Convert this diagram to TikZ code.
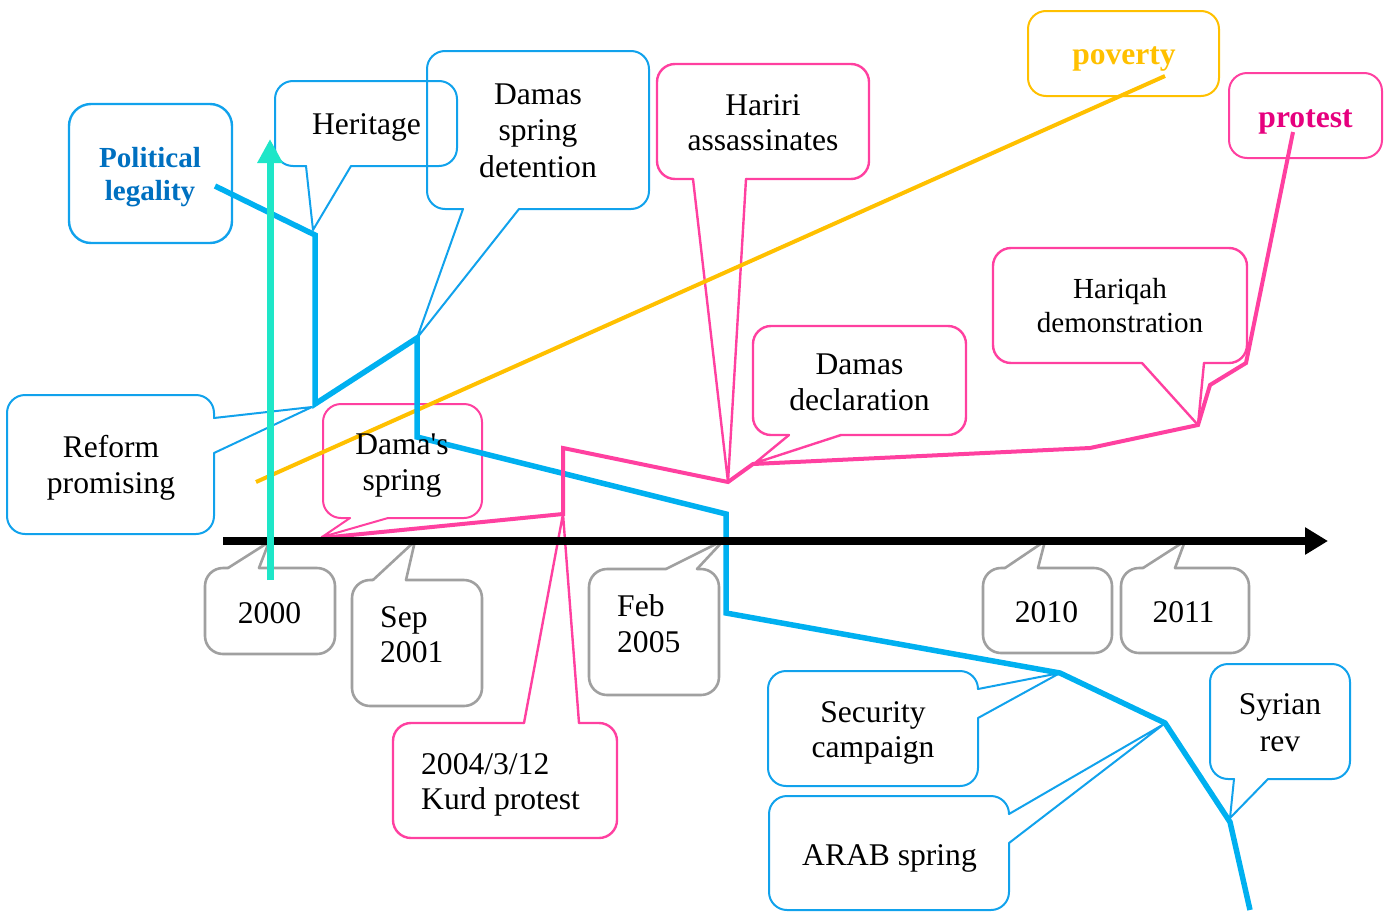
\documentclass[tikz,border=0pt]{standalone}
\usepackage{fontspec}
\setmainfont{Liberation Serif}
\usetikzlibrary{arrows.meta}
\definecolor{bthick}{RGB}{0,176,240}
\definecolor{bout}{RGB}{17,162,236}
\definecolor{pk}{RGB}{255,64,160}
\definecolor{pkt}{RGB}{230,0,126}
\definecolor{yl}{RGB}{255,192,0}
\definecolor{gr}{RGB}{160,160,160}
\definecolor{tl}{RGB}{30,230,200}
\definecolor{plt}{RGB}{0,112,192}
\newcommand\cC[1]{\begin{tabular}[t]{@{}c@{}}#1\end{tabular}}
\newcommand\cL[1]{\begin{tabular}[t]{@{}l@{}}#1\end{tabular}}
% callout outlines: #1 style, #2 x0, #3 y0 (top), #4 x1, #5 y1 (bottom), #6 #7 pointer base, #8 tip
\newcommand\coBot[8]{%
  \draw[#1,rounded corners=18bp] (#6,#5) -- (#2,#5) -- (#2,#3) -- (#4,#3) -- (#4,#5) -- (#7,#5);
  \draw[#1] (#7,#5) -- (#8) -- (#6,#5);}
\newcommand\coTop[8]{%
  \draw[#1,rounded corners=18bp] (#7,#3) -- (#4,#3) -- (#4,#5) -- (#2,#5) -- (#2,#3) -- (#6,#3);
  \draw[#1] (#6,#3) -- (#8) -- (#7,#3);}
\newcommand\coRight[8]{%
  \draw[#1,rounded corners=18bp] (#4,#6) -- (#4,#3) -- (#2,#3) -- (#2,#5) -- (#4,#5) -- (#4,#7);
  \draw[#1] (#4,#7) -- (#8) -- (#4,#6);}
\begin{document}
\begin{tikzpicture}[x=1bp,y=-1bp,
  txt/.style={inner sep=0pt,anchor=base,font=\fontsize{31.7}{37}\selectfont},
  txtl/.style={inner sep=0pt,anchor=base west,font=\fontsize{31.7}{37}\selectfont},
  bo/.style={draw=bout,line width=2bp,line join=round,line cap=round},
  po/.style={draw=pk,line width=2.4bp,line join=round,line cap=round},
  go/.style={draw=gr,line width=2.6bp,line join=round,line cap=round},
  yo/.style={draw=yl,line width=2bp},
  bline/.style={draw=bthick,line width=5.5bp},
  pline/.style={draw=pk,line width=4bp},
  yline/.style={draw=yl,line width=4bp}]
\useasboundingbox (0,0) rectangle (1392,914);
% path vertices
\coordinate (B0) at (215,186); \coordinate (B1) at (315,235); \coordinate (B2) at (315,404);
\coordinate (B3) at (417,338); \coordinate (B4) at (417,437); \coordinate (B5) at (726,514);
\coordinate (B6) at (726,613); \coordinate (B7) at (1060,673); \coordinate (B8) at (1165,723);
\coordinate (B9) at (1230,822); \coordinate (B10) at (1250,910);
\coordinate (P0) at (321,538); \coordinate (P1) at (563,514); \coordinate (P2) at (563,448);
\coordinate (P3) at (728,482); \coordinate (P4) at (753,464); \coordinate (P5) at (1090,448);
\coordinate (P6) at (1198,425); \coordinate (P7) at (1210,385); \coordinate (P8) at (1246,363);
\coordinate (P9) at (1293,132);
\coordinate (Y0) at (256,482); \coordinate (Y1) at (1165,76);
\coordinate (A0) at (223,541); \coordinate (A1) at (1328,541);
\coordinate (T0) at (270,580); \coordinate (T1) at (270,139);
% callout tips
\coordinate (tHer) at (313,230); \coordinate (tDsd) at (417,338); \coordinate (tRef) at (312,407);
\coordinate (tHar) at (728,482); \coordinate (tHq) at (1198,425); \coordinate (tDd) at (755,463);
\coordinate (tDs) at (322,537); \coordinate (tKu) at (563,514);
\coordinate (t00) at (269,542); \coordinate (t01) at (415,541); \coordinate (t05) at (724,540);
\coordinate (t10) at (1045,541); \coordinate (t11) at (1185,541);
\coordinate (tSec) at (1060,673); \coordinate (tAr) at (1164,724); \coordinate (tSy) at (1230,818);
% boxes
\draw[bo,line width=2.4bp,rounded corners=22bp] (69,104) rectangle (232,243);
\draw[yo,rounded corners=18bp] (1028,11) rectangle (1219,96);
\draw[po,line width=2bp,rounded corners=18bp] (1229,73) rectangle (1382,158);
\coBot{bo}{275}{81}{457}{166}{306}{351}{tHer}
\coBot{bo}{427}{51}{649}{209}{463}{519}{tDsd}
\coRight{bo}{7}{395}{214}{534}{418}{453}{tRef}
\coBot{po}{657}{64}{869}{179}{693}{746}{tHar}
\coBot{po}{993}{248}{1247}{363}{1142}{1204}{tHq}
\coBot{po}{753}{326}{966}{435}{789}{841}{tDd}
\coBot{po,line width=2bp}{323}{404}{482}{518}{350}{388}{tDs}
\coTop{po}{393}{723}{617}{838}{524}{579}{tKu}
\coTop{go}{205}{568}{335}{654}{228}{259}{t00}
\coTop{go}{352}{580}{482}{706}{373}{406}{t01}
\coTop{go}{589}{569}{719}{695}{666}{697}{t05}
\coTop{go}{983}{568}{1112}{653}{1005}{1038}{t10}
\coTop{go}{1121}{568}{1249}{653}{1143}{1175}{t11}
\coRight{bo}{768}{671}{978}{786}{689}{718}{tSec}
\coRight{bo}{769}{796}{1009}{910}{814}{843}{tAr}
\coBot{bo}{1210}{664}{1350}{779}{1234}{1268}{tSy}
% lines
\draw[yline] (Y0) -- (Y1);
\draw[bline] (B0) -- (B1) -- (B2) -- (B3) -- (B4) -- (B5) -- (B6) -- (B7) -- (B8) -- (B9) -- (B10);
\draw[pline] (P0) -- (P1) -- (P2) -- (P3) -- (P4) -- (P5) -- (P6) -- (P7) -- (P8) -- (P9);
\draw[line width=8bp,-{Triangle[length=23bp,width=26bp]}] (A0) -- (A1);
\draw[draw=tl,line width=7bp,-{Triangle[length=24bp,width=24bp]}] (T0) -- (T1);
% texts
\node[txt,font=\fontsize{29.2}{34}\selectfont\bfseries,text=plt] (tpl) at (150,167) {\cC{Political\\legality}};
\node[txt] (xher) at (366.5,134) {Heritage};
\node[txt] (xdsd) at (538,104) {\cC{Damas\\spring\\detention}};
\node[txt,font=\fontsize{31.7}{36}\selectfont] (xhar) at (763,115) {\cC{Hariri\\assassinates}};
\node[txt,font=\fontsize{31.7}{37}\selectfont\bfseries,text=yl] (xpov) at (1124,64) {poverty};
\node[txt,font=\fontsize{31.7}{37}\selectfont\bfseries,text=pkt] (xpro) at (1305.5,127) {protest};
\node[txt,font=\fontsize{29.2}{35}\selectfont] (xhq) at (1120,298) {\cC{Hariqah\\demonstration}};
\node[txt] (xdd) at (859.5,374) {\cC{Damas\\declaration}};
\node[txt] (xref) at (111,457) {\cC{Reform\\promising}};
\node[txt] (xds) at (402,454) {\cC{Dama{\textquotesingle}s\\spring}};
\node[txtl,font=\fontsize{31.7}{36}\selectfont] (xku) at (421,774) {\cL{2004/3/12\\Kurd protest}};
\node[txt] (x00) at (269.5,623) {2000};
\node[txtl,font=\fontsize{31.7}{36}\selectfont] (x01) at (380,627) {\cL{Sep\\2001}};
\node[txtl] (x05) at (617,616) {\cL{Feb\\2005}};
\node[txt] (x10) at (1046.5,622) {2010};
\node[txt] (x11) at (1183.5,622) {2011};
\node[txt,font=\fontsize{31.7}{36}\selectfont] (xsec) at (873,722) {\cC{Security\\campaign}};
\node[txt] (xar) at (889.5,865) {ARAB spring};
\node[txt,font=\fontsize{31.7}{38}\selectfont] (xsy) at (1280,714) {\cC{Syrian\\rev}};
\end{tikzpicture}
\end{document}
